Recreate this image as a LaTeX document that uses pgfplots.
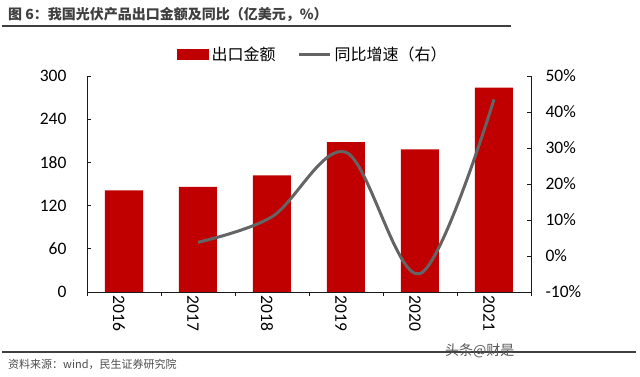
\documentclass[border=0pt]{standalone}
\usepackage{fontspec}
\setmainfont{Noto Sans CJK SC}
\newfontfamily\carlito{Carlito}
\usepackage{pgfplots}
\pgfplotsset{compat=1.18}
\definecolor{barred}{HTML}{C00000}
\definecolor{linegray}{HTML}{646464}
\definecolor{titlegray}{HTML}{3F3F3F}
\definecolor{axisgray}{HTML}{1A1A1A}
\begin{document}
\begin{tikzpicture}[x=1pt,y=1pt]
\path[use as bounding box] (0,0) rectangle (640,377);
\node[anchor=west, font=\fontsize{14}{16}\selectfont\bfseries, text=titlegray, inner sep=0] at (8,362) {图 6：我国光伏产品出口金额及同比（亿美元，\%）};
\draw[titlegray, line width=1.5pt] (2,351) -- (511,351);
\draw[titlegray, line width=1.5pt] (2,25) -- (636,25);
\node[anchor=west, font=\fontsize{11}{13}\selectfont, text=black!70, inner sep=0] at (8,13) {资料来源：wind，民生证券研究院};
\node[anchor=west, font=\fontsize{14}{16}\selectfont, text=black!65, inner sep=0] at (445,26) {头条@财是};

\pgfplotstableread{
x y
0 141
1 146
2 162
3 208
4 198
5 284
}\bars
\pgfplotstableread{
x g
1 3.8
2 10.9
3 28.8
4 -4.9
5 43.5
}\growth

\begin{axis}[
  at={(87pt,85pt)}, anchor=south west,
  scale only axis, width=444pt, height=216pt,
  xmin=-0.5, xmax=5.5, ymin=0, ymax=300,
  axis x line*=bottom, axis y line*=left,
  axis line style={axisgray, line width=0.9pt},
  tick align=inside, major tick length=4pt,
  tick style={axisgray, line width=0.9pt},
  xtick={-0.5,0.5,...,5.5},
  x tick label as interval,
  xticklabels={2016,2017,2018,2019,2020,2021},
  xtick style={yshift=-4pt},
  xticklabel style={rotate=-90, anchor=west, yshift=-5pt, font=\carlito\fontsize{17.5}{20}\selectfont},
  ytick={0,60,...,300},
  yticklabels={0,60,120,180,240,300},
  yticklabel style={xshift=-17pt, font=\carlito\fontsize{17.5}{20}\selectfont},
]
\addplot[ybar, bar width=38pt, fill=barred, draw=none] table[x=x,y=y] {\bars};
\end{axis}

\begin{axis}[
  at={(87pt,85pt)}, anchor=south west,
  scale only axis, width=444pt, height=216pt,
  xmin=-0.5, xmax=5.5, ymin=-10, ymax=50,
  axis x line=none, axis y line*=right,
  axis line style={axisgray, line width=0.9pt},
  tick align=inside, major tick length=4pt,
  tick style={axisgray, line width=0.9pt},
  ytick={-10,0,...,50},
  yticklabels={-10\%,0\%,10\%,20\%,30\%,40\%,50\%},
  yticklabel style={xshift=11pt, font=\carlito\fontsize{17.5}{20}\selectfont},
  legend columns=2,
  legend style={draw=none, fill=none, at={(0.51,1.1)}, anchor=center,
    font=\fontsize{16}{18}\selectfont, inner sep=0pt,
    /tikz/every even column/.append style={column sep=19pt},
    nodes={inner xsep=3pt}},
]
\addlegendimage{legend image code/.code={\fill[barred] (0pt,-5pt) rectangle (31pt,5pt);}}
\addlegendentry{出口金额}
\addplot[linegray, line width=3pt, smooth, tension=0.55, no marks,
  legend image code/.code={\draw[linegray,line width=3pt] (0pt,0pt) -- (31pt,0pt);}] table[x=x,y=g] {\growth};
\addlegendentry{同比增速（右）}
\end{axis}
\end{tikzpicture}
\end{document}
